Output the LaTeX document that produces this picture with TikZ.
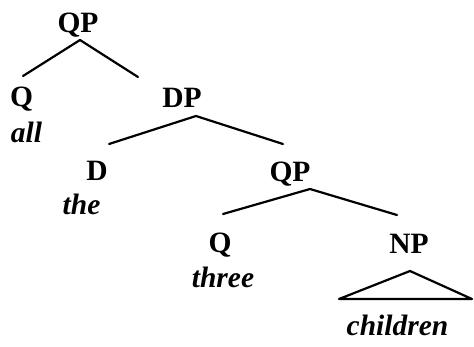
\documentclass[tikz,border=0pt]{standalone}
\usepackage{fontspec}
\setmainfont{Liberation Serif}
\usetikzlibrary{calc}
\tikzset{
  lab/.style={anchor=base, inner sep=0pt, font=\fontsize{29.5}{29.5}\selectfont\bfseries},
  word/.style={anchor=base, inner sep=0pt, font=\fontsize{29.5}{29.5}\selectfont\bfseries\itshape},
  edge/.style={line width=2.2pt, line cap=round, line join=round}
}
\begin{document}
\begin{tikzpicture}[x=1pt,y=1pt]
\useasboundingbox (0,0) rectangle (474,-346);
\node[lab] (qp1) at (78,-32) {QP};
\node[lab] (q1) at (21.5,-106) {Q};
\node[word] (all) at (26.5,-142) {all};
\node[lab] (dp) at (182,-107) {DP};
\node[lab] (d) at (97,-180) {D};
\node[word] (the) at (81.5,-214) {the};
\node[lab] (qp2) at (290,-181) {QP};
\node[lab] (q2) at (220,-252) {Q};
\node[word] (three) at (223,-287) {three};
\node[lab] (np) at (409,-253) {NP};
\node[word] (children) at (397.5,-335) {children};
% QP -> Q, DP
\draw[edge] ($(q1.base)+(1.5,30)$) -- ($(qp1.base)+(2,-8)$) -- ($(dp.base)+(-44,30)$);
% DP -> D, QP
\draw[edge] ($(d.base)+(12,36)$) -- ($(dp.base)+(14,-9)$) -- ($(qp2.base)+(-7,37)$);
% QP -> Q, NP
\draw[edge] ($(q2.base)+(3,38)$) -- ($(qp2.base)+(20,-8)$) -- ($(np.base)+(-12,38)$);
% NP triangle
\draw[edge] ($(np.base)+(-70,-46)$) -- ($(np.base)+(1,-18)$) -- ($(np.base)+(63,-46)$) -- cycle;
\end{tikzpicture}
\end{document}
